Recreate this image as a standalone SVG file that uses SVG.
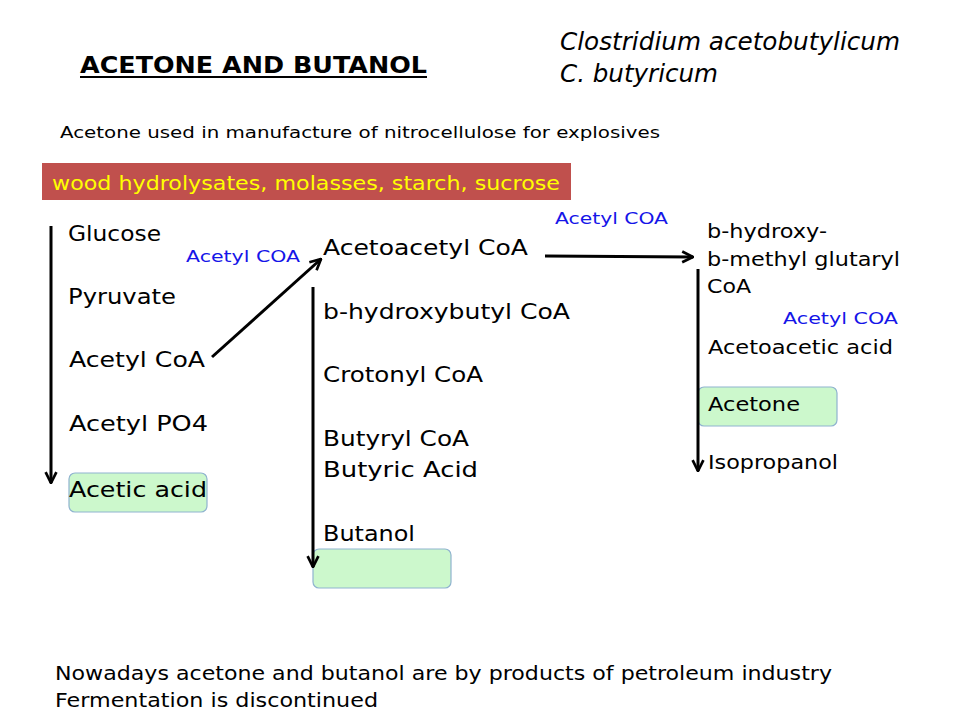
<svg xmlns="http://www.w3.org/2000/svg" width="960" height="720" viewBox="0 0 960 720">
<defs>
<style>
text{font-family:"DejaVu Sans","Liberation Sans",sans-serif;fill:#000}
.big{font-size:22px}
.mid{font-size:19px}
.blue{font-size:16px;fill:#1515e8}
.box{fill:#ccf8cc;stroke:#8fb3cf;stroke-width:1.2}
.conn line{stroke:#000;stroke-width:3;marker-end:url(#ah)}
</style>
<marker id="ah" viewBox="0 0 10 10" refX="9" refY="5" markerWidth="4.5" markerHeight="4.5" orient="auto" markerUnits="strokeWidth">
<path d="M1,1 L9,5 L1,9" fill="none" stroke="#000" stroke-width="2"/>
</marker>
</defs>
<rect width="960" height="720" fill="#fff"/>
<g id="title">
<text x="80" y="73" font-size="23" font-weight="bold" textLength="347" lengthAdjust="spacingAndGlyphs">ACETONE AND BUTANOL</text>
<line x1="80" y1="77" x2="427" y2="77" stroke="#000" stroke-width="2"/>
</g>
<g id="organisms">
<text x="560" y="50" font-size="24" font-style="italic" textLength="340" lengthAdjust="spacingAndGlyphs">Clostridium acetobutylicum</text>
<text x="560" y="82" font-size="24" font-style="italic" textLength="158" lengthAdjust="spacingAndGlyphs">C. butyricum</text>
</g>
<g id="note">
<text x="60" y="138" font-size="16" textLength="600" lengthAdjust="spacingAndGlyphs">Acetone used in manufacture of nitrocellulose for explosives</text>
</g>
<g id="substrates">
<rect x="42" y="163" width="529" height="37" fill="#c0504d"/>
<text x="52" y="190" font-size="20" style="fill:#ffff00" textLength="508" lengthAdjust="spacingAndGlyphs">wood hydrolysates, molasses, starch, sucrose</text>
</g>
<g id="glucose"><text class="big" x="68" y="241" textLength="93" lengthAdjust="spacingAndGlyphs">Glucose</text></g>
<g id="pyruvate"><text class="big" x="68" y="304" textLength="108" lengthAdjust="spacingAndGlyphs">Pyruvate</text></g>
<g id="acetylcoa"><text class="big" x="69" y="367" textLength="136" lengthAdjust="spacingAndGlyphs">Acetyl CoA</text></g>
<g id="acetylpo4"><text class="big" x="69" y="431" textLength="139" lengthAdjust="spacingAndGlyphs">Acetyl PO4</text></g>
<g id="aceticacid">
<rect class="box" x="69" y="473" width="138" height="39" rx="6"/>
<text class="big" x="69" y="497" textLength="138" lengthAdjust="spacingAndGlyphs">Acetic acid</text>
</g>
<g id="label1"><text class="blue" x="186" y="262" textLength="114" lengthAdjust="spacingAndGlyphs">Acetyl COA</text></g>
<g id="acetoacetylcoa"><text class="big" x="323" y="255" textLength="205" lengthAdjust="spacingAndGlyphs">Acetoacetyl CoA</text></g>
<g id="hydroxybutyl"><text class="big" x="323" y="319" textLength="247" lengthAdjust="spacingAndGlyphs">b-hydroxybutyl CoA</text></g>
<g id="crotonyl"><text class="big" x="323" y="382" textLength="160" lengthAdjust="spacingAndGlyphs">Crotonyl CoA</text></g>
<g id="butyryl"><text class="big" x="323" y="446" textLength="146" lengthAdjust="spacingAndGlyphs">Butyryl CoA</text></g>
<g id="butyric"><text class="big" x="323" y="477" textLength="155" lengthAdjust="spacingAndGlyphs">Butyric Acid</text></g>
<g id="butanol">
<text class="big" x="323" y="541" textLength="92" lengthAdjust="spacingAndGlyphs">Butanol</text>
<rect class="box" x="313" y="549" width="138" height="39" rx="6"/>
</g>
<g id="label2"><text class="blue" x="555" y="224" textLength="113" lengthAdjust="spacingAndGlyphs">Acetyl COA</text></g>
<g id="hmg">
<text class="mid" x="707" y="238" textLength="120" lengthAdjust="spacingAndGlyphs">b-hydroxy-</text>
<text class="mid" x="707" y="266" textLength="193" lengthAdjust="spacingAndGlyphs">b-methyl glutaryl</text>
<text class="mid" x="707" y="293" textLength="44" lengthAdjust="spacingAndGlyphs">CoA</text>
</g>
<g id="label3"><text class="blue" x="783" y="324" textLength="115" lengthAdjust="spacingAndGlyphs">Acetyl COA</text></g>
<g id="acetoacetic"><text class="mid" x="708" y="354" textLength="185" lengthAdjust="spacingAndGlyphs">Acetoacetic acid</text></g>
<g id="acetone">
<rect class="box" x="698" y="387" width="139" height="39" rx="6"/>
<text class="mid" x="708" y="411" textLength="92" lengthAdjust="spacingAndGlyphs">Acetone</text>
</g>
<g id="isopropanol"><text class="mid" x="708" y="469" textLength="130" lengthAdjust="spacingAndGlyphs">Isopropanol</text></g>
<g id="footer">
<text x="55" y="680" font-size="20" textLength="777" lengthAdjust="spacingAndGlyphs">Nowadays acetone and butanol are by products of petroleum industry</text>
<text x="55" y="707" font-size="20" textLength="323" lengthAdjust="spacingAndGlyphs">Fermentation is discontinued</text>
</g>
<g id="connectors" class="conn">
<line x1="51" y1="226" x2="51" y2="483"/>
<line x1="212" y1="357" x2="321" y2="259"/>
<line x1="313" y1="287" x2="313" y2="567"/>
<line x1="545" y1="256" x2="693" y2="257"/>
<line x1="698" y1="269" x2="698" y2="471"/>
</g>
</svg>
